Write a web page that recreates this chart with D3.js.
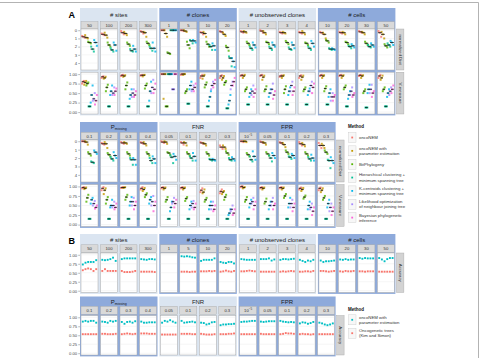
<!DOCTYPE html>
<html>
<head>
<meta charset="utf-8">
<script src="https://cdn.jsdelivr.net/npm/d3@7"></script>
<style>
  body { margin: 0; background: #fff; }
  svg { display: block; font-family: "Liberation Sans", Arial, sans-serif; }
</style>
</head>
<body>
<div id="chart"></div>
<script>
// methods and colours (ggplot hue palette)
const methodsA = ['oncoNEM', 'oncoNEM with parameter estimation', 'BitPhylogeny',
  'Hierarchical clustering + minimum spanning tree', 'K-centroids clustering + minimum spanning tree',
  'Likelihood optimization of neighbour joining tree', 'Bayesian phylogenetic inference']
const legendLinesA = [['oncoNEM'], ['oncoNEM with', 'parameter estimation'], ['BitPhylogeny'],
  ['Hierarchical clustering +', 'minimum spanning tree'], ['K-centroids clustering +', 'minimum spanning tree'],
  ['Likelihood optimization', 'of neighbour joining tree'], ['Bayesian phylogenetic', 'inference']]
const colorsA = ['#F8766D', '#C49A00', '#53B400', '#00C094', '#00B6EB', '#A58AFF', '#FB61D7']
const legendLinesB = [['oncoNEM with', 'parameter estimation'], ['Oncogenetic trees', '(Kim and Simon)']]
const colorsB = ['#00BFC4', '#F8766D']

// facet labels
const sitesLabels = ['50', '100', '200', '300']
const clonesLabels = ['1', '5', '10', '20']
const unobsLabels = ['1', '2', '3', '4']
const cellsLabels = ['10', '20', '30', '50']
const pmissLabels = ['0.1', '0.2', '0.3', '0.4']
const fnrLabels = ['0.05', '0.1', '0.2', '0.3']
const fprLabels = ['10^-5', '0.05', '0.1', '0.2', '0.3']

const distTicks = [0, 1, 2, 3, 4]
const unitTicks = [0, 0.25, 0.5, 0.75, 1]

// normalized Dist: per panel, per method (first 5 methods), a few replicate values
const distSites = [
  [[0.7, 0.8, 0.9], [0.6, 0.9, 1.0], [1.4, 1.5, 1.6], [2.0, 2.3, 2.6], [1.2, 1.5, 1.9]],
  [[0.4, 0.5, 0.6], [0.3, 0.6, 0.9], [1.5, 1.8, 2.0], [2.2, 2.4, 2.6], [1.5, 1.8, 2.5]],
  [[0.1, 0.3, 0.5], [0.2, 0.4, 0.6], [1.5, 1.7, 1.9], [2.3, 2.5, 2.6], [1.9, 2.3, 2.6]],
  [[0.1, 0.2, 0.4], [0.2, 0.3, 0.8], [1.4, 1.6, 1.8], [2.0, 2.2, 2.5], [1.5, 2.2, 2.6]]
]
const distClones = [
  [[0, 0, 0], [0, 0.4, 0.8], [2.7, 2.8, 2.9], [0, 0, 0], [0, 0, 0]],
  [[0, 0, 0.1], [0, 0.1, 0.2], [1.4, 1.8, 2.2], [1.2, 1.3, 1.6], [1.2, 1.3, 1.5]],
  [[0.2, 0.3, 0.5], [0.2, 0.4, 0.8], [1.4, 1.7, 2.0], [1.8, 2.0, 2.4], [1.6, 1.9, 2.4]],
  [[0.1, 0.2, 0.3], [0.3, 0.5, 0.7], [1.9, 2.1, 2.5], [3.2, 3.4, 4.4], [3.4, 3.8, 4.5]]
]
const distUnobs = [
  [[0.1, 0.2, 0.3], [0.1, 0.2, 0.3], [1.4, 1.6, 1.8], [2.0, 2.2, 2.4], [1.5, 1.8, 2.1]],
  [[0.0, 0.1, 0.3], [0.1, 0.3, 0.5], [1.4, 1.5, 1.7], [2.0, 2.2, 2.4], [1.5, 1.8, 2.0]],
  [[0.2, 0.3, 0.4], [0.2, 0.3, 0.4], [1.3, 1.5, 1.7], [2.1, 2.3, 2.4], [1.5, 1.8, 2.2]],
  [[0.2, 0.3, 0.4], [0.1, 0.3, 0.5], [1.5, 1.6, 1.8], [2.0, 2.2, 2.4], [1.3, 1.6, 2.0]]
]
const distCells = [
  [[0.2, 0.3, 0.4], [0.3, 0.5, 1.0], [1.2, 1.3, 1.5], [2.2, 2.3, 2.4], [2.2, 2.3, 2.4]],
  [[0.2, 0.3, 0.4], [0.2, 0.3, 0.5], [1.4, 1.5, 1.7], [1.9, 2.0, 2.2], [1.7, 1.9, 2.1]],
  [[0.1, 0.2, 0.3], [0.2, 0.3, 0.5], [1.4, 1.6, 1.8], [1.8, 2.0, 2.1], [1.6, 1.8, 2.0]],
  [[0.1, 0.3, 0.8], [0.2, 0.5, 1.0], [1.7, 1.9, 2.1], [1.6, 1.8, 2.0], [1.3, 1.5, 1.8]]
]
const distPmiss = [
  [[0, 0, 0.1], [0, 0.1, 0.4], [1.3, 1.5, 1.7], [2.4, 2.5, 2.6], [1.1, 1.3, 1.5]],
  [[0.2, 0.3, 0.4], [0.1, 0.3, 0.8], [1.4, 1.6, 1.8], [1.9, 2.1, 2.3], [1.3, 1.7, 2.0]],
  [[0.1, 0.2, 0.3], [0.1, 0.2, 0.3], [1.3, 1.5, 1.7], [2.0, 2.2, 2.8], [2.0, 2.2, 2.8]],
  [[0.1, 0.2, 0.3], [0.1, 0.3, 0.5], [1.3, 1.5, 1.7], [2.0, 2.3, 2.6], [1.8, 2.1, 2.6]]
]
const distFnr = [
  [[0, 0.1, 0.2], [0, 0.1, 0.3], [1.3, 1.4, 1.6], [1.7, 1.9, 2.6], [1.5, 1.8, 2.2]],
  [[0.1, 0.2, 0.4], [0.1, 0.2, 0.5], [1.3, 1.5, 1.7], [1.8, 2.0, 2.3], [1.4, 1.8, 2.3]],
  [[0.1, 0.2, 0.3], [0.2, 0.3, 0.5], [1.3, 1.5, 1.7], [2.1, 2.2, 2.3], [2.1, 2.2, 2.3]],
  [[0.5, 0.7, 0.9], [0.5, 0.7, 0.9], [1.2, 1.4, 1.6], [2.0, 2.2, 2.3], [1.9, 2.1, 2.3]]
]
const distFpr = [
  [[0, 0, 0.1], [0, 0, 0.1], [1.4, 1.6, 1.8], [1.8, 2.2, 2.4], [1.2, 1.8, 2.2]],
  [[0, 0.1, 0.2], [0.1, 0.2, 0.4], [1.3, 1.5, 1.7], [1.7, 2.0, 2.4], [1.4, 1.7, 2.0]],
  [[0.1, 0.2, 0.3], [0.2, 0.4, 0.7], [1.1, 1.3, 1.5], [1.8, 1.9, 2.1], [1.5, 1.7, 2.0]],
  [[0.1, 0.3, 0.5], [0.2, 0.4, 0.6], [1.3, 1.5, 1.7], [1.9, 2.1, 2.3], [1.6, 2.0, 2.3]],
  [[0.2, 0.5, 0.8], [0.3, 0.5, 0.8], [1.1, 1.3, 1.5], [2.2, 2.3, 3.2], [1.9, 2.3, 2.6]]
]

// V-measure: per panel, per method (all 7)
const vmSites = [
  [[0.75, 0.8, 0.82], [0.72, 0.78, 0.82], [0.7, 0.75, 0.78], [0.15, 0.15, 0.15], [0.25, 0.45, 0.7], [0.3, 0.35, 0.5], [0.2, 0.3, 0.45]],
  [[0.9, 0.93, 0.94], [0.88, 0.9, 0.93], [0.55, 0.65, 0.72], [0.15, 0.15, 0.15], [0.45, 0.55, 0.7], [0.45, 0.5, 0.65], [0.45, 0.55, 0.62]],
  [[0.95, 0.97, 0.98], [0.93, 0.95, 0.97], [0.6, 0.7, 0.78], [0.15, 0.15, 0.15], [0.35, 0.45, 0.6], [0.4, 0.5, 0.6], [0.4, 0.45, 0.55]],
  [[0.96, 0.97, 0.98], [0.94, 0.97, 0.98], [0.62, 0.7, 0.75], [0.15, 0.15, 0.15], [0.3, 0.55, 0.8], [0.5, 0.65, 0.85], [0.5, 0.6, 0.75]]
]
const vmClones = [
  [[1, 1, 1], [0.35, 1, 1], [0.15, 0.15, 0.15], [1, 1, 1], [1, 1, 1], [0.6, 0.6, 0.6], [1, 1, 1]],
  [[0.98, 1, 1], [0.98, 1, 1], [0.5, 0.55, 0.6], [0.22, 0.22, 0.22], [0.6, 0.7, 0.8], [0.55, 0.6, 0.7], [0.55, 0.65, 0.75]],
  [[0.9, 0.95, 0.98], [0.88, 0.95, 0.98], [0.65, 0.72, 0.78], [0.15, 0.15, 0.15], [0.3, 0.4, 0.55], [0.6, 0.7, 0.8], [0.65, 0.75, 0.85]],
  [[0.9, 0.95, 0.97], [0.85, 0.9, 0.95], [0.72, 0.78, 0.82], [0.1, 0.1, 0.1], [0.2, 0.3, 0.45], [0.6, 0.7, 0.8], [0.7, 0.8, 0.9]]
]
const vmUnobs = [
  [[0.95, 0.97, 0.98], [0.9, 0.95, 0.98], [0.55, 0.6, 0.65], [0.2, 0.2, 0.2], [0.4, 0.5, 0.6], [0.45, 0.55, 0.7], [0.4, 0.5, 0.6]],
  [[0.95, 0.97, 0.98], [0.85, 0.92, 0.96], [0.55, 0.6, 0.68], [0.2, 0.2, 0.2], [0.4, 0.5, 0.6], [0.5, 0.6, 0.75], [0.35, 0.45, 0.55]],
  [[0.93, 0.95, 0.97], [0.9, 0.95, 0.97], [0.5, 0.6, 0.68], [0.2, 0.2, 0.2], [0.45, 0.55, 0.65], [0.55, 0.7, 0.8], [0.45, 0.55, 0.65]],
  [[0.9, 0.95, 0.97], [0.85, 0.92, 0.96], [0.55, 0.6, 0.65], [0.2, 0.2, 0.2], [0.45, 0.55, 0.62], [0.55, 0.7, 0.8], [0.5, 0.65, 0.75]]
]
const vmCells = [
  [[0.95, 0.97, 0.98], [0.9, 0.95, 0.97], [0.55, 0.62, 0.68], [0.2, 0.2, 0.2], [0.4, 0.5, 0.6], [0.3, 0.4, 0.5], [0.3, 0.4, 0.45]],
  [[0.95, 0.97, 0.98], [0.9, 0.95, 0.97], [0.6, 0.65, 0.7], [0.15, 0.15, 0.15], [0.35, 0.45, 0.55], [0.45, 0.55, 0.65], [0.4, 0.45, 0.5]],
  [[0.95, 0.97, 0.98], [0.9, 0.95, 0.97], [0.5, 0.55, 0.6], [0.12, 0.12, 0.12], [0.5, 0.6, 0.72], [0.5, 0.6, 0.72], [0.4, 0.5, 0.55]],
  [[0.9, 0.95, 0.98], [0.85, 0.9, 0.96], [0.55, 0.6, 0.65], [0.15, 0.15, 0.15], [0.4, 0.5, 0.6], [0.45, 0.55, 0.65], [0.5, 0.6, 0.7]]
]
const vmPmiss = [
  [[0.95, 0.97, 0.98], [0.93, 0.95, 0.97], [0.6, 0.7, 0.78], [0.15, 0.15, 0.15], [0.55, 0.65, 0.7], [0.5, 0.55, 0.62], [0.42, 0.45, 0.5]],
  [[0.9, 0.95, 0.98], [0.8, 0.9, 0.95], [0.55, 0.65, 0.72], [0.15, 0.15, 0.15], [0.45, 0.5, 0.65], [0.45, 0.5, 0.6], [0.4, 0.45, 0.55]],
  [[0.96, 0.97, 0.98], [0.96, 0.97, 0.98], [0.65, 0.72, 0.78], [0.15, 0.15, 0.15], [0.5, 0.6, 0.72], [0.5, 0.6, 0.7], [0.4, 0.5, 0.6]],
  [[0.92, 0.95, 0.98], [0.88, 0.92, 0.96], [0.72, 0.78, 0.82], [0.15, 0.15, 0.15], [0.55, 0.65, 0.72], [0.5, 0.6, 0.75], [0.35, 0.5, 0.6]]
]
const vmFnr = [
  [[0.95, 0.97, 0.98], [0.92, 0.95, 0.97], [0.6, 0.65, 0.72], [0.15, 0.15, 0.15], [0.35, 0.45, 0.6], [0.55, 0.6, 0.7], [0.45, 0.55, 0.65]],
  [[0.95, 0.97, 0.98], [0.92, 0.95, 0.97], [0.62, 0.68, 0.72], [0.15, 0.15, 0.15], [0.4, 0.5, 0.6], [0.45, 0.55, 0.62], [0.4, 0.45, 0.55]],
  [[0.85, 0.9, 0.95], [0.82, 0.85, 0.92], [0.6, 0.65, 0.7], [0.15, 0.15, 0.15], [0.4, 0.5, 0.6], [0.4, 0.5, 0.6], [0.35, 0.4, 0.5]],
  [[0.82, 0.87, 0.92], [0.8, 0.85, 0.88], [0.65, 0.72, 0.78], [0.15, 0.15, 0.15], [0.25, 0.3, 0.4], [0.35, 0.4, 0.5], [0.25, 0.3, 0.4]]
]
const vmFpr = [
  [[0.98, 1, 1], [0.95, 0.97, 0.98], [0.6, 0.65, 0.72], [0.15, 0.15, 0.15], [0.45, 0.55, 0.65], [0.55, 0.6, 0.7], [0.4, 0.5, 0.6]],
  [[0.95, 0.97, 0.98], [0.92, 0.95, 0.97], [0.55, 0.6, 0.68], [0.15, 0.15, 0.15], [0.4, 0.5, 0.6], [0.5, 0.6, 0.7], [0.4, 0.5, 0.55]],
  [[0.95, 0.97, 0.98], [0.92, 0.95, 0.97], [0.7, 0.75, 0.8], [0.15, 0.15, 0.15], [0.45, 0.55, 0.7], [0.45, 0.55, 0.65], [0.35, 0.45, 0.55]],
  [[0.92, 0.95, 0.97], [0.88, 0.92, 0.96], [0.68, 0.72, 0.76], [0.15, 0.15, 0.15], [0.4, 0.5, 0.6], [0.4, 0.45, 0.55], [0.25, 0.35, 0.45]],
  [[0.9, 0.95, 0.97], [0.85, 0.9, 0.95], [0.65, 0.7, 0.75], [0.15, 0.15, 0.15], [0.45, 0.55, 0.65], [0.35, 0.45, 0.55], [0.25, 0.35, 0.45]]
]

// Accuracy (panel B): per panel [oncoNEM with param. est., oncogenetic trees], 6 replicates
const accSites = [
  [[0.73, 0.78, 0.8, 0.8, 0.8, 0.85], [0.57, 0.6, 0.62, 0.6, 0.55, 0.6]],
  [[0.86, 0.85, 0.86, 0.88, 0.92, 0.83], [0.55, 0.6, 0.55, 0.55, 0.55, 0.55]],
  [[0.88, 0.9, 0.9, 0.9, 0.9, 0.9], [0.55, 0.52, 0.52, 0.52, 0.53, 0.55]],
  [[0.88, 0.87, 0.86, 0.88, 0.88, 0.87], [0.53, 0.53, 0.53, 0.53, 0.53, 0.52]]
]
const accClones = [
  [[], []],
  [[0.96, 0.95, 0.96, 0.95, 0.93, 0.92], [0.53, 0.53, 0.53, 0.52, 0.53, 0.53]],
  [[0.83, 0.86, 0.86, 0.86, 0.86, 0.9], [0.54, 0.54, 0.54, 0.55, 0.54, 0.55]],
  [[0.8, 0.78, 0.77, 0.8, 0.8, 0.76], [0.53, 0.54, 0.56, 0.54, 0.53, 0.55]]
]
const accUnobs = [
  [[0.88, 0.87, 0.86, 0.86, 0.86, 0.86], [0.54, 0.54, 0.55, 0.56, 0.55, 0.54]],
  [[0.88, 0.88, 0.88, 0.9, 0.84, 0.87], [0.53, 0.53, 0.53, 0.53, 0.53, 0.53]],
  [[0.86, 0.88, 0.88, 0.87, 0.88, 0.89], [0.53, 0.54, 0.53, 0.54, 0.55, 0.54]],
  [[0.86, 0.83, 0.8, 0.84, 0.82, 0.86], [0.53, 0.53, 0.54, 0.54, 0.53, 0.55]]
]
const accCells = [
  [[0.84, 0.8, 0.82, 0.82, 0.83, 0.84], [0.55, 0.55, 0.54, 0.53, 0.54, 0.55]],
  [[0.87, 0.86, 0.88, 0.86, 0.87, 0.87], [0.54, 0.53, 0.55, 0.54, 0.54, 0.55]],
  [[0.91, 0.89, 0.91, 0.9, 0.9, 0.9], [0.54, 0.54, 0.53, 0.54, 0.54, 0.54]],
  [[0.91, 0.87, 0.82, 0.88, 0.91, 0.91], [0.53, 0.53, 0.53, 0.53, 0.53, 0.53]]
]
const accPmiss = [
  [[0.88, 0.9, 0.88, 0.9, 0.9, 0.85], [0.53, 0.53, 0.53, 0.53, 0.53, 0.53]],
  [[0.88, 0.87, 0.85, 0.9, 0.88, 0.9], [0.54, 0.54, 0.53, 0.53, 0.53, 0.54]],
  [[0.87, 0.82, 0.87, 0.88, 0.85, 0.89], [0.53, 0.54, 0.55, 0.54, 0.53, 0.54]],
  [[0.88, 0.85, 0.85, 0.86, 0.86, 0.86], [0.55, 0.55, 0.55, 0.54, 0.54, 0.54]]
]
const accFnr = [
  [[0.85, 0.9, 0.88, 0.92, 0.88, 0.85], [0.52, 0.52, 0.52, 0.52, 0.52, 0.52]],
  [[0.9, 0.85, 0.86, 0.87, 0.88, 0.86], [0.54, 0.54, 0.54, 0.54, 0.53, 0.53]],
  [[0.85, 0.84, 0.8, 0.82, 0.86, 0.87], [0.54, 0.53, 0.52, 0.52, 0.52, 0.53]],
  [[0.78, 0.8, 0.8, 0.81, 0.81, 0.82], [0.53, 0.53, 0.53, 0.54, 0.54, 0.55]]
]
const accFpr = [
  [[0.87, 0.88, 0.88, 0.89, 0.9, 0.9], [0.53, 0.53, 0.53, 0.53, 0.53, 0.53]],
  [[0.88, 0.87, 0.88, 0.89, 0.89, 0.89], [0.54, 0.53, 0.53, 0.53, 0.53, 0.53]],
  [[0.9, 0.88, 0.87, 0.86, 0.87, 0.86], [0.53, 0.54, 0.56, 0.55, 0.55, 0.54]],
  [[0.83, 0.86, 0.85, 0.82, 0.84, 0.87], [0.53, 0.54, 0.53, 0.53, 0.52, 0.53]],
  [[0.85, 0.83, 0.8, 0.78, 0.8, 0.83], [0.53, 0.53, 0.53, 0.53, 0.53, 0.53]]
]

// layout
const W = 480, H = 358
const cfg = { x0: 80, pad: 1, pitch: 19.5, panelW: 17, gap: 1.8 }
const lightBlue = '#dbe5f1', darkBlue = '#8eaadb'

const svg = d3.select('#chart').append('svg')
  .attr('width', W).attr('height', H)

// outer frame (top and right edges)
svg.append('path').attr('d', 'M0,2.5H478.5V358')
  .attr('fill', 'none').attr('stroke', '#a0a0a0').attr('stroke-width', 0.8)

// horizontal jitter of replicates inside a method band (positions only)
const jit = [0.05, 0.5, 0.95]

function drawDots(g, px, y, series) {
  const x = d3.scaleBand().domain(d3.range(series.length))
    .range([px + 1, px + cfg.panelW - 1]).paddingInner(0.02)
  const bw = x.bandwidth()
  series.forEach((vals, i) => {
    vals.forEach((v, j) => {
      g.append('rect')
        .attr('x', x(i) + bw * jit[j] - 1).attr('y', y(v) - 1)
        .attr('width', 2).attr('height', 2)
        .attr('fill', colorsA[i]).attr('opacity', 0.8)
    })
  })
  series.forEach((vals, i) => {
    const m = d3.median(vals)
    g.append('line')
      .attr('x1', x(i) - bw * 0.15).attr('x2', x(i) + bw * 1.15)
      .attr('y1', y(m)).attr('y2', y(m))
      .attr('stroke', '#111').attr('stroke-width', 0.8)
  })
}

function drawAcc(g, px, y, series) {
  const x = d3.scalePoint().domain(d3.range(6))
    .range([px + 1.8, px + cfg.panelW - 1.8])
  series.forEach((vals, i) => {
    vals.forEach((v, j) => {
      g.append('rect')
        .attr('x', x(j) - 0.95).attr('y', y(v) - 0.95)
        .attr('width', 1.9).attr('height', 1.9)
        .attr('fill', colorsB[i])
    })
  })
}

function headerText(sel, title) {
  if (title === 'Pmissing') {
    sel.text('P').append('tspan').attr('font-size', 3.6).attr('dy', 1.2).text('missing')
  } else {
    sel.text(title)
  }
}

function subText(sel, lab) {
  if (lab === '10^-5') {
    sel.text('10').append('tspan').attr('font-size', 3).attr('dy', -1.6).text('−5')
  } else {
    sel.text(lab)
  }
}

function drawBlock(b) {
  const bottom = b.rows[b.rows.length - 1].bottom
  let gx = cfg.x0
  b.groups.forEach(grp => {
    const n = grp.labels.length
    const gw = 2 * cfg.pad + (n - 1) * cfg.pitch + cfg.panelW
    svg.append('rect').attr('x', gx).attr('y', b.top)
      .attr('width', gw).attr('height', bottom + 1.4 - b.top)
      .attr('fill', grp.dark ? darkBlue : lightBlue)
    svg.append('text').attr('x', gx + gw / 2).attr('y', b.top + b.headH / 2 + 2.1)
      .attr('text-anchor', 'middle').attr('font-size', 6).attr('fill', '#1a1a1a')
      .call(headerText, grp.title)

    grp.labels.forEach((lab, pi) => {
      const px = gx + cfg.pad + pi * cfg.pitch
      const sy = b.top + b.headH
      svg.append('rect').attr('x', px).attr('y', sy)
        .attr('width', cfg.panelW).attr('height', b.subH)
        .attr('fill', '#d9d9d9').attr('stroke', '#a6a6a6').attr('stroke-width', 0.4)
      svg.append('text').attr('x', px + cfg.panelW / 2).attr('y', sy + b.subH / 2 + 1.5)
        .attr('text-anchor', 'middle').attr('font-size', 4.2).attr('fill', '#333')
        .call(subText, lab)

      b.rows.forEach((r, ri) => {
        const y = d3.scaleLinear().domain(r.domain).range([r.top, r.bottom])
        const g = svg.append('g')
        g.append('rect').attr('x', px).attr('y', r.top)
          .attr('width', cfg.panelW).attr('height', r.bottom - r.top)
          .attr('fill', '#fff').attr('stroke', '#a6a6a6').attr('stroke-width', 0.5)
        r.ticks.forEach(t => {
          g.append('line').attr('x1', px + 0.3).attr('x2', px + cfg.panelW - 0.3)
            .attr('y1', y(t)).attr('y2', y(t))
            .attr('stroke', '#e6e6e6').attr('stroke-width', 0.4)
        })
        r.draw(g, px, y, grp.data[ri][pi])
      })
    })
    gx += gw + cfg.gap
  })

  // right-hand row strips
  const rx = gx - cfg.gap + 1
  b.rows.forEach(r => {
    svg.append('rect').attr('x', rx).attr('y', r.top)
      .attr('width', 7.5).attr('height', r.bottom - r.top)
      .attr('fill', '#d3d3d3').attr('stroke', '#a6a6a6').attr('stroke-width', 0.4)
    const cy = (r.top + r.bottom) / 2
    svg.append('text').attr('transform', `translate(${rx + 2.3},${cy}) rotate(90)`)
      .attr('text-anchor', 'middle').attr('font-size', 4.4).attr('fill', '#333')
      .text(r.label)

    // y axis on the left
    const y = d3.scaleLinear().domain(r.domain).range([r.top, r.bottom])
    const ax = svg.append('g').attr('transform', `translate(${cfg.x0},0)`)
      .call(d3.axisLeft(y).tickValues(r.ticks).tickFormat(r.fmt).tickSize(1.8).tickPadding(1))
    ax.select('.domain').remove()
    ax.selectAll('line').attr('stroke', '#555').attr('stroke-width', 0.4)
    ax.selectAll('text').attr('font-size', 4.2).attr('fill', '#4d4d4d')
      .attr('font-family', '"Liberation Sans", Arial, sans-serif')
  })
}

const fmtInt = d3.format('d'), fmt2 = d3.format('.2f')
const distDomain = [-0.15, 4.85], unitDomain = [1.05, -0.05]

// ---- A, first row
drawBlock({
  top: 8, headH: 13.7, subH: 7.3,
  rows: [
    { top: 29, bottom: 70, domain: distDomain, ticks: distTicks, fmt: fmtInt, label: 'normalized Dist', draw: drawDots },
    { top: 72.2, bottom: 114, domain: unitDomain, ticks: unitTicks, fmt: fmt2, label: 'V-measure', draw: drawDots }
  ],
  groups: [
    { title: '# sites', labels: sitesLabels, dark: false, data: [distSites, vmSites] },
    { title: '# clones', labels: clonesLabels, dark: true, data: [distClones, vmClones] },
    { title: '# unobserved clones', labels: unobsLabels, dark: false, data: [distUnobs, vmUnobs] },
    { title: '# cells', labels: cellsLabels, dark: true, data: [distCells, vmCells] }
  ]
})

// ---- A, second row
drawBlock({
  top: 122, headH: 10.3, subH: 7.4,
  rows: [
    { top: 140, bottom: 182, domain: distDomain, ticks: distTicks, fmt: fmtInt, label: 'normalized Dist', draw: drawDots },
    { top: 184.5, bottom: 226.5, domain: unitDomain, ticks: unitTicks, fmt: fmt2, label: 'V-measure', draw: drawDots }
  ],
  groups: [
    { title: 'Pmissing', labels: pmissLabels, dark: true, data: [distPmiss, vmPmiss] },
    { title: 'FNR', labels: fnrLabels, dark: false, data: [distFnr, vmFnr] },
    { title: 'FPR', labels: fprLabels, dark: true, data: [distFpr, vmFpr] }
  ]
})

// ---- B, first row
drawBlock({
  top: 234, headH: 10.8, subH: 7.8,
  rows: [
    { top: 253, bottom: 292.5, domain: unitDomain, ticks: unitTicks, fmt: fmt2, label: 'Accuracy', draw: drawAcc }
  ],
  groups: [
    { title: '# sites', labels: sitesLabels, dark: false, data: [accSites] },
    { title: '# clones', labels: clonesLabels, dark: true, data: [accClones] },
    { title: '# unobserved clones', labels: unobsLabels, dark: false, data: [accUnobs] },
    { title: '# cells', labels: cellsLabels, dark: true, data: [accCells] }
  ]
})

// ---- B, second row
drawBlock({
  top: 296.5, headH: 9.8, subH: 8,
  rows: [
    { top: 315.5, bottom: 355, domain: unitDomain, ticks: unitTicks, fmt: fmt2, label: 'Accuracy', draw: drawAcc }
  ],
  groups: [
    { title: 'Pmissing', labels: pmissLabels, dark: true, data: [accPmiss] },
    { title: 'FNR', labels: fnrLabels, dark: false, data: [accFnr] },
    { title: 'FPR', labels: fprLabels, dark: true, data: [accFpr] }
  ]
})

// panel letters
svg.append('text').attr('x', 68.5).attr('y', 18).attr('font-size', 9)
  .attr('font-weight', 'bold').text('A')
svg.append('text').attr('x', 68.5).attr('y', 243.5).attr('font-size', 9)
  .attr('font-weight', 'bold').text('B')

// legends
function drawLegend(x, titleY, firstY, step, lines, colors) {
  svg.append('text').attr('x', x).attr('y', titleY).attr('font-size', 4.5)
    .attr('font-weight', 'bold').attr('fill', '#111').text('Method')
  lines.forEach((ls, i) => {
    const cy = firstY + i * step
    svg.append('rect').attr('x', x + 0.5).attr('y', cy - 5)
      .attr('width', 7.5).attr('height', 10)
      .attr('fill', '#f7f7f7').attr('stroke', '#c8c8c8').attr('stroke-width', 0.4)
    svg.append('rect').attr('x', x + 3.3).attr('y', cy - 0.9)
      .attr('width', 1.8).attr('height', 1.8).attr('fill', colors[i])
    ls.forEach((t, k) => {
      const ty = cy + 1.5 + (k - (ls.length - 1) / 2) * 5.2
      svg.append('text').attr('x', x + 11).attr('y', ty)
        .attr('font-size', 4.3).attr('fill', '#333').text(t)
    })
  })
}
drawLegend(348, 127.8, 137.5, 13.35, legendLinesA, colorsA)
drawLegend(348, 311, 319.8, 13.4, legendLinesB, colorsB)
</script>
</body>
</html>
